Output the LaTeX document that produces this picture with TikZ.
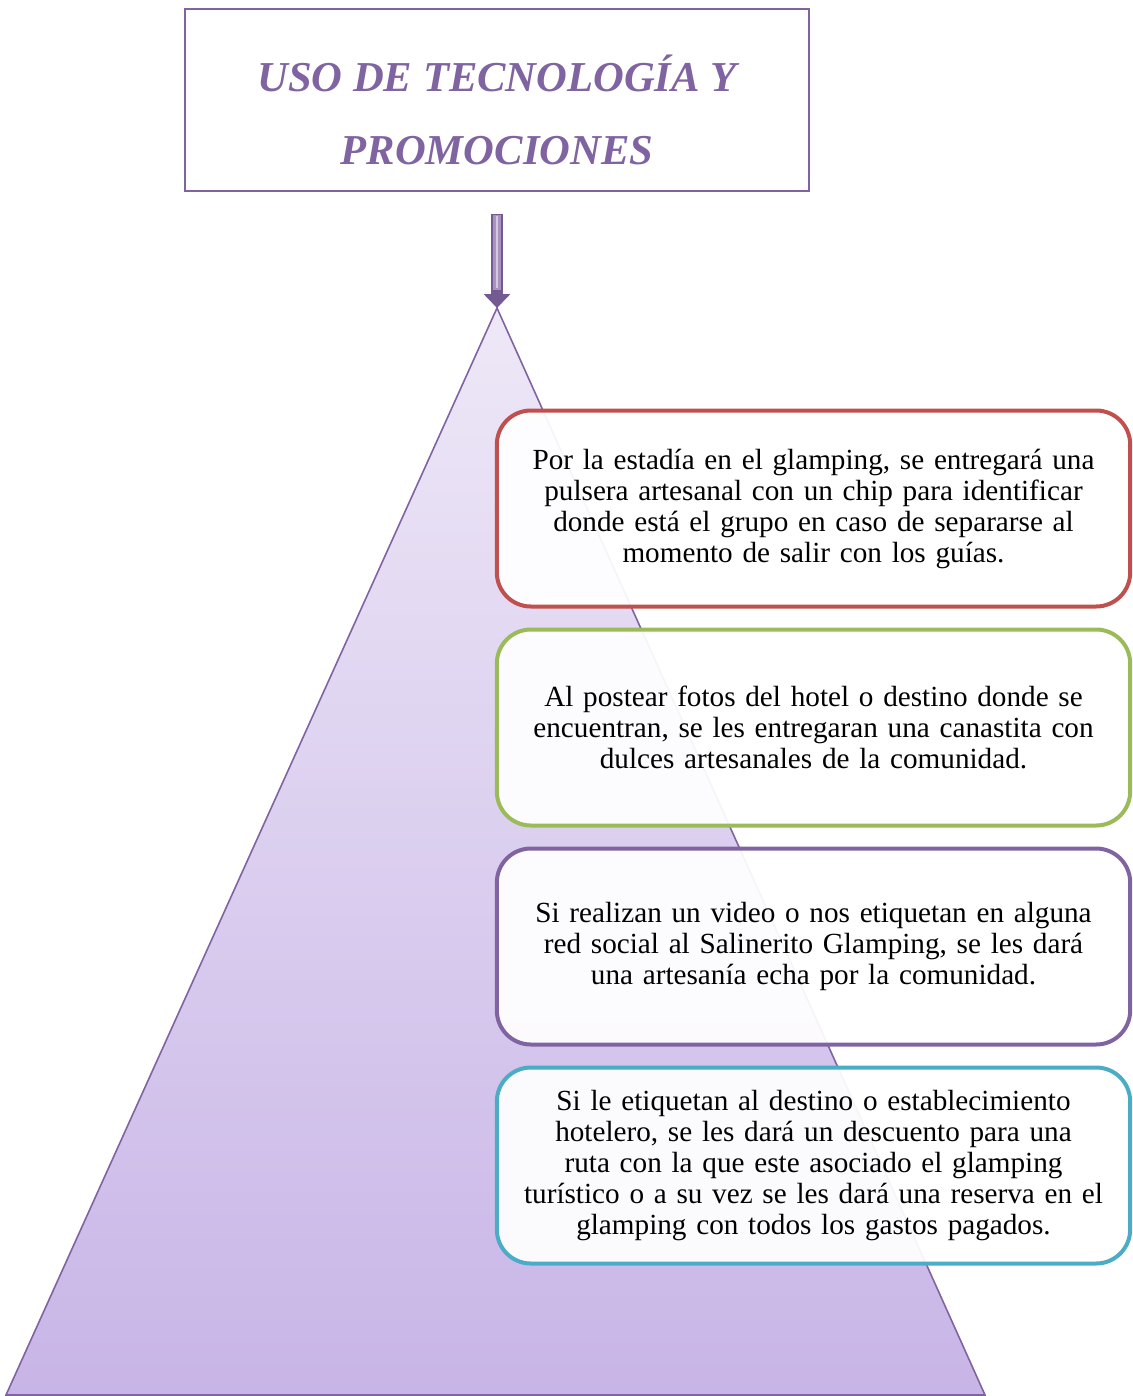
\documentclass[tikz,border=0pt]{standalone}
\usepackage{fontspec}
\setmainfont{Liberation Serif}
\definecolor{lila}{RGB}{128,100,162}
\definecolor{lilatop}{RGB}{238,232,247}
\definecolor{lilabot}{RGB}{200,181,231}
\definecolor{rojo}{RGB}{192,80,77}
\definecolor{verde}{RGB}{155,187,89}
\definecolor{celeste}{RGB}{75,172,198}
\usetikzlibrary{arrows.meta,positioning}

\begin{document}
\begin{tikzpicture}[x=0.5pt,y=-0.5pt,
    promo/.style={draw,line width=2pt,rounded corners=17pt,fill=white,fill opacity=0.93,text opacity=1,
      minimum width=316.5pt,minimum height=98pt,outer sep=0pt,align=center,text width=310pt,
      font=\fontsize{14.6}{15.5}\selectfont},
    titulo/.style={draw=lila,line width=0.8pt,minimum width=312pt,minimum height=91pt},
    titletxt/.style={align=center,text=lila,font=\fontsize{21.3}{36.5}\selectfont\bfseries\itshape}]
  \useasboundingbox (0,0) rectangle (1133,1396);
  % piramide
  \coordinate (apex) at (497,308);
  \coordinate (baseL) at (6,1395);
  \coordinate (baseR) at (985,1395);
  \shade[top color=lilatop,bottom color=lilabot] (apex) -- (baseL) -- (baseR) -- cycle;
  \draw[lila,line width=0.8pt] (apex) -- (baseL) -- (baseR) -- cycle;
  % titulo
  \node[titulo] (title) at (497,100) {};
  \node[titletxt] (titletext) at ([yshift=-5pt]title.center) {USO DE TECNOLOGÍA Y\\PROMOCIONES};
  \draw[lila!90!black,line width=6pt,shorten <=11pt,-{Triangle[width=13pt,length=7pt]}] (title.south) -- (apex);
  \draw[lila!70!white,line width=3.6pt,shorten <=11.6pt,shorten >=9pt] (title.south) -- (apex);
  \draw[lila!35!white,line width=1.2pt,shorten <=12pt,shorten >=10pt] (title.south) -- (apex);
  % cuadros
  \node[promo,draw=rojo] (r1) at (813.5,508.5) {Por la estadía en el glamping, se entregará una\\pulsera artesanal con un chip para identificar\\donde está el grupo en caso de separarse al\\momento de salir con los guías.};
  \node[promo,draw=verde,below=11.5pt of r1] (r2) {Al postear fotos del hotel o destino donde se\\encuentran, se les entregaran una canastita con\\dulces artesanales de la comunidad.};
  \node[promo,draw=lila,below=11.5pt of r2] (r3) {Si realizan un video o nos etiquetan en alguna\\red social al Salinerito Glamping, se les dará\\una artesanía echa por la comunidad.};
  \node[promo,draw=celeste,below=11.5pt of r3] (r4) {Si le etiquetan al destino o establecimiento\\hotelero, se les dará un descuento para una\\ruta con la que este asociado el glamping\\turístico o a su vez se les dará una reserva en el\\glamping con todos los gastos pagados.};
\end{tikzpicture}
\end{document}
